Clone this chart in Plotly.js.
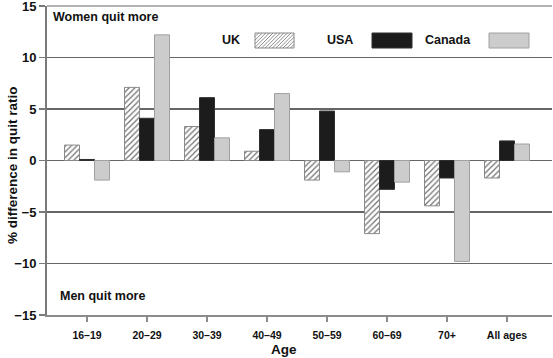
<!DOCTYPE html>
<html>
<head>
<meta charset="utf-8">
<script src="https://cdn.plot.ly/plotly-3.0.1.min.js"></script>
<style>html,body{margin:0;padding:0;background:#fff;}#chart{width:553px;height:358px;}</style>
</head>
<body>
<div id="chart"></div>
<script>
const ageGroups = ["16\u201319", "20\u201329", "30\u201339", "40\u201349", "50\u201359", "60\u201369", "70+", "All ages"];
const ukValues = [1.5, 7.1, 3.3, 0.9, -1.9, -7.1, -4.4, -1.7];
const usaValues = [0.1, 4.1, 6.1, 3.0, 4.8, -2.8, -1.7, 1.9];
const canadaValues = [-1.9, 12.2, 2.2, 6.5, -1.1, -2.1, -9.8, 1.6];
const seriesNames = ["UK", "USA", "Canada"];

const W = 553, H = 358;
const M = {l: 47, r: 1, t: 6, b: 43};
const PW = W - M.l - M.r, PH = H - M.t - M.b;
const px = x => (x - M.l) / PW;
const py = y => (H - M.b - y) / PH;
const FONT = "Arial, 'Liberation Sans', sans-serif";

const traces = [
  {type: "bar", name: seriesNames[0], x: ageGroups, y: ukValues,
   marker: {color: "#ffffff", line: {color: "#8a8a8a", width: 1},
            pattern: {shape: "/", fgcolor: "#707070", bgcolor: "#ffffff", size: 4, solidity: 0.3}}},
  {type: "bar", name: seriesNames[1], x: ageGroups, y: usaValues,
   marker: {color: "#1c1c1c", line: {color: "#2e2e2e", width: 1}}},
  {type: "bar", name: seriesNames[2], x: ageGroups, y: canadaValues,
   marker: {color: "#cccccc", line: {color: "#a0a0a0", width: 1}}}
];

const shapes = [];
const annotations = [];

// top gridline at the upper end of the axis (y = 15)
shapes.push({type: "line", xref: "paper", yref: "paper", x0: 0, x1: 1, y0: 1, y1: 1,
  line: {color: "#666666", width: 1.2}, layer: "above"});

// Legend (drawn as shapes + text, swatches to the right of the labels)
const legendItems = [
  {label: seriesNames[0], textRight: 242, sx0: 255, sx1: 294},
  {label: seriesNames[1], textRight: 355, sx0: 372, sx1: 412},
  {label: seriesNames[2], textRight: 473, sx0: 489, sx1: 529}
];
const sy0 = 33, sy1 = 48;
legendItems.forEach((it, i) => {
  annotations.push({xref: "paper", yref: "paper", x: px(it.textRight), y: py((sy0 + sy1) / 2),
    xanchor: "right", yanchor: "middle", showarrow: false, text: it.label,
    font: {family: FONT, size: 12.5, color: "#111", weight: "bold"}});
  const fill = i === 0 ? "#ffffff" : (i === 1 ? "#1c1c1c" : "#cccccc");
  const line = i === 0 ? "#8a8a8a" : (i === 1 ? "#2e2e2e" : "#a0a0a0");
  shapes.push({type: "rect", xref: "paper", yref: "paper", x0: px(it.sx0), x1: px(it.sx1),
    y0: py(sy1), y1: py(sy0), fillcolor: fill, line: {color: line, width: 1}, layer: "above"});
  if (i === 0) {
    let d = "";
    const step = 3.6;
    for (let c = it.sx0 - (sy1 - sy0); c < it.sx1; c += step) {
      let x0 = c, y0 = sy1, x1 = c + (sy1 - sy0), y1 = sy0;
      if (x0 < it.sx0) { y0 = sy1 - (it.sx0 - x0); x0 = it.sx0; }
      if (x1 > it.sx1) { y1 = sy0 + (x1 - it.sx1); x1 = it.sx1; }
      if (x1 <= x0) continue;
      d += "M" + px(x0) + "," + py(y0) + "L" + px(x1) + "," + py(y1);
    }
    shapes.push({type: "path", xref: "paper", yref: "paper", path: d,
      line: {color: "#707070", width: 0.8}, layer: "above"});
  }
});

annotations.push({xref: "paper", yref: "paper", x: px(51), y: py(17), xanchor: "left", yanchor: "middle",
  showarrow: false, text: "Women quit more", font: {family: FONT, size: 12.5, color: "#111", weight: "bold"}});
annotations.push({xref: "paper", yref: "paper", x: px(58), y: py(296), xanchor: "left", yanchor: "middle",
  showarrow: false, text: "Men quit more", font: {family: FONT, size: 12.5, color: "#111", weight: "bold"}});
annotations.push({xref: "paper", yref: "paper", x: px(284), y: py(349), xanchor: "center", yanchor: "middle",
  showarrow: false, text: "Age", font: {family: FONT, size: 13.5, color: "#111", weight: "bold"}});
annotations.push({xref: "paper", yref: "paper", x: px(12), y: py(165), xanchor: "center", yanchor: "middle",
  showarrow: false, textangle: -90, text: "% difference in quit ratio",
  font: {family: FONT, size: 13.5, color: "#111", weight: "bold"}});

const layout = {
  width: W, height: H,
  margin: M,
  paper_bgcolor: "#ffffff", plot_bgcolor: "#ffffff",
  showlegend: false,
  barmode: "group", bargap: 0.25, bargroupgap: 0,
  font: {family: FONT, color: "#111"},
  xaxis: {type: "category", range: [-0.667, 7.75], showgrid: false, zeroline: false,
    showline: true, linecolor: "#8c8c8c", linewidth: 2,
    ticks: "outside", ticklen: 5, tickcolor: "#8c8c8c", tickwidth: 1.5,
    tickfont: {family: FONT, size: 10.5, color: "#111", weight: "bold"}, ticklabelstandoff: 4},
  yaxis: {range: [-15, 15], dtick: 5, tick0: 0, showgrid: true, gridcolor: "#666666", gridwidth: 1.2,
    zeroline: true, zerolinecolor: "#666666", zerolinewidth: 1.2,
    showline: true, linecolor: "#7a7a7a", linewidth: 2,
    ticks: "outside", ticklen: 6, tickcolor: "#7a7a7a", tickwidth: 1.5,
    ticklabeloverflow: "allow",
    tickfont: {family: FONT, size: 13, color: "#111", weight: "bold"}},
  shapes: shapes,
  annotations: annotations
};

Plotly.newPlot("chart", traces, layout, {displayModeBar: false, staticPlot: true});
</script>
</body>
</html>
